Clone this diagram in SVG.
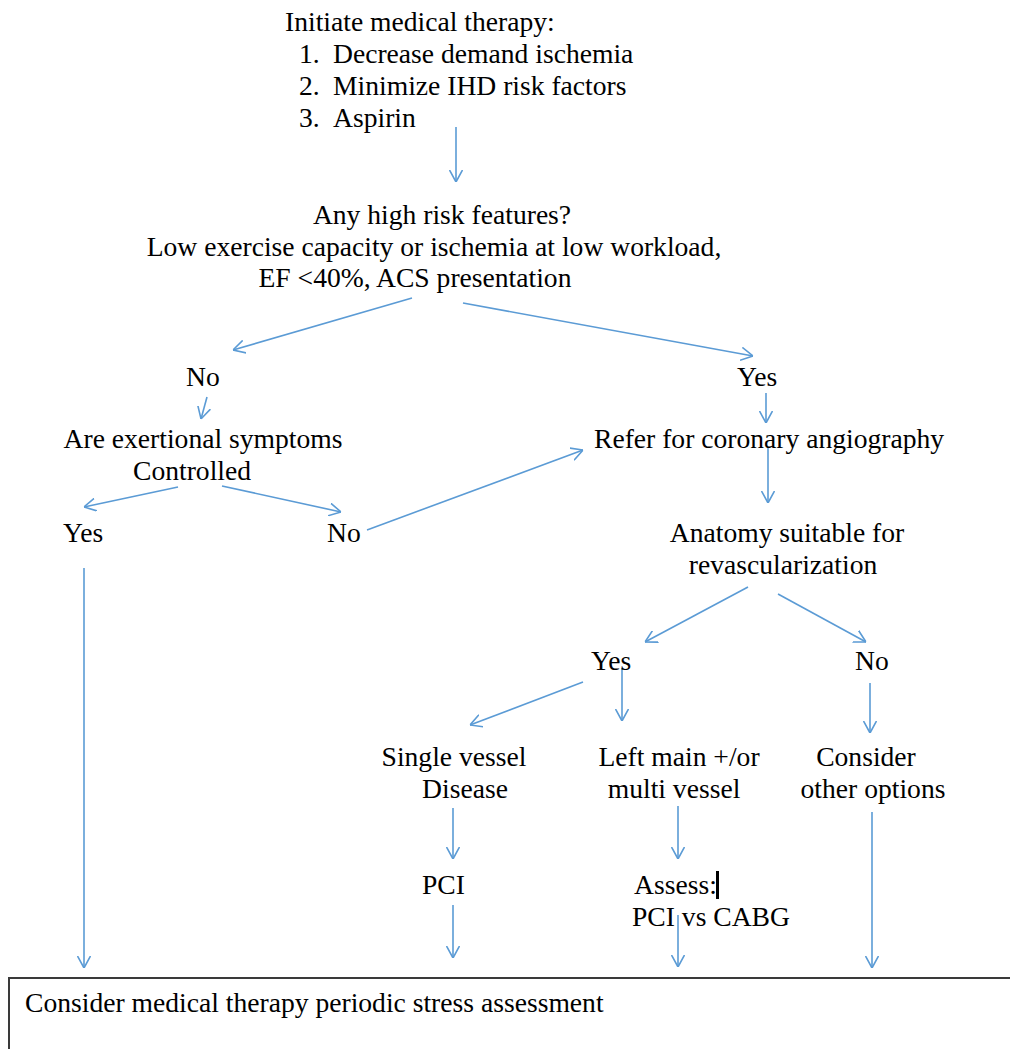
<svg xmlns="http://www.w3.org/2000/svg" width="1010" height="1049" viewBox="0 0 1010 1049">
<style>
text{font-family:"Liberation Serif","Times New Roman",serif;font-size:27.6px;fill:#000}
.c{stroke:#5B9BD5;stroke-width:1.6;fill:none}
</style>
<defs>
<marker id="ah" viewBox="0 0 12 14" refX="12" refY="7" markerWidth="12" markerHeight="14" markerUnits="userSpaceOnUse" orient="auto">
<path d="M0,0.5 L12,7 L0,13.5" fill="none" stroke="#5B9BD5" stroke-width="1.6"/>
</marker>
</defs>
<rect width="1010" height="1049" fill="#fff"/>
<g id="connectors" class="c">
<line x1="456" y1="127" x2="456" y2="182" marker-end="url(#ah)"/>
<line x1="412" y1="298" x2="233" y2="350" marker-end="url(#ah)"/>
<line x1="463" y1="303" x2="753" y2="356" marker-end="url(#ah)"/>
<line x1="207" y1="397" x2="201" y2="419" marker-end="url(#ah)"/>
<line x1="766" y1="393" x2="766" y2="423" marker-end="url(#ah)"/>
<line x1="178" y1="487" x2="84" y2="507" marker-end="url(#ah)"/>
<line x1="222" y1="486" x2="341" y2="512" marker-end="url(#ah)"/>
<line x1="367" y1="530" x2="583" y2="450" marker-end="url(#ah)"/>
<line x1="768" y1="447" x2="768" y2="503" marker-end="url(#ah)"/>
<line x1="748" y1="587" x2="645" y2="642" marker-end="url(#ah)"/>
<line x1="778" y1="594" x2="866" y2="642" marker-end="url(#ah)"/>
<line x1="583" y1="682" x2="470" y2="725" marker-end="url(#ah)"/>
<line x1="622" y1="668" x2="622" y2="721" marker-end="url(#ah)"/>
<line x1="870" y1="683" x2="870" y2="733" marker-end="url(#ah)"/>
<line x1="453" y1="808" x2="453" y2="859" marker-end="url(#ah)"/>
<line x1="678" y1="806" x2="678" y2="859" marker-end="url(#ah)"/>
<line x1="872" y1="812" x2="872" y2="968" marker-end="url(#ah)"/>
<line x1="453" y1="905" x2="453" y2="958" marker-end="url(#ah)"/>
<line x1="678" y1="915" x2="678" y2="967" marker-end="url(#ah)"/>
<line x1="84" y1="568" x2="84" y2="968" marker-end="url(#ah)"/>
</g>
<g id="n-therapy">
<text x="285" y="31">Initiate medical therapy:</text>
<text x="299" y="63">1.</text><text x="333" y="63">Decrease demand ischemia</text>
<text x="299" y="95">2.</text><text x="333" y="95">Minimize IHD risk factors</text>
<text x="299" y="127">3.</text><text x="333" y="127">Aspirin</text>
</g>
<g id="n-risk" text-anchor="middle">
<text x="442" y="224">Any high risk features?</text>
<text x="434" y="256">Low exercise capacity or ischemia at low workload,</text>
<text x="415" y="287">EF &lt;40%, ACS presentation</text>
</g>
<g id="n-no1"><text x="186" y="386">No</text></g>
<g id="n-yes1"><text x="737" y="386">Yes</text></g>
<g id="n-exertional" text-anchor="middle">
<text x="203" y="448">Are exertional symptoms</text>
<text x="192" y="480">Controlled</text>
</g>
<g id="n-refer"><text x="594" y="448">Refer for coronary angiography</text></g>
<g id="n-yes2"><text x="63" y="542">Yes</text></g>
<g id="n-no2"><text x="327" y="542">No</text></g>
<g id="n-anatomy" text-anchor="middle">
<text x="787" y="542">Anatomy suitable for</text>
<text x="783" y="574">revascularization</text>
</g>
<g id="n-yes3"><text x="591" y="670">Yes</text></g>
<g id="n-no3"><text x="855" y="670">No</text></g>
<g id="n-single" text-anchor="middle">
<text x="454" y="766">Single vessel</text>
<text x="465" y="798">Disease</text>
</g>
<g id="n-leftmain" text-anchor="middle">
<text x="679" y="766">Left main +/or</text>
<text x="674" y="798">multi vessel</text>
</g>
<g id="n-consider" text-anchor="middle">
<text x="866" y="766">Consider</text>
<text x="873" y="798">other options</text>
</g>
<g id="n-pci"><text x="422" y="894">PCI</text></g>
<g id="n-assess">
<text x="634" y="894">Assess:</text>
<rect x="716" y="871" width="3" height="28" fill="#000"/>
<text x="632" y="926">PCI vs CABG</text>
</g>
<g id="n-bottom">
<rect x="9" y="978" width="1010" height="90" fill="none" stroke="#3a3a3a" stroke-width="2"/>
<text x="25" y="1012">Consider medical therapy periodic stress assessment</text>
</g>
</svg>
